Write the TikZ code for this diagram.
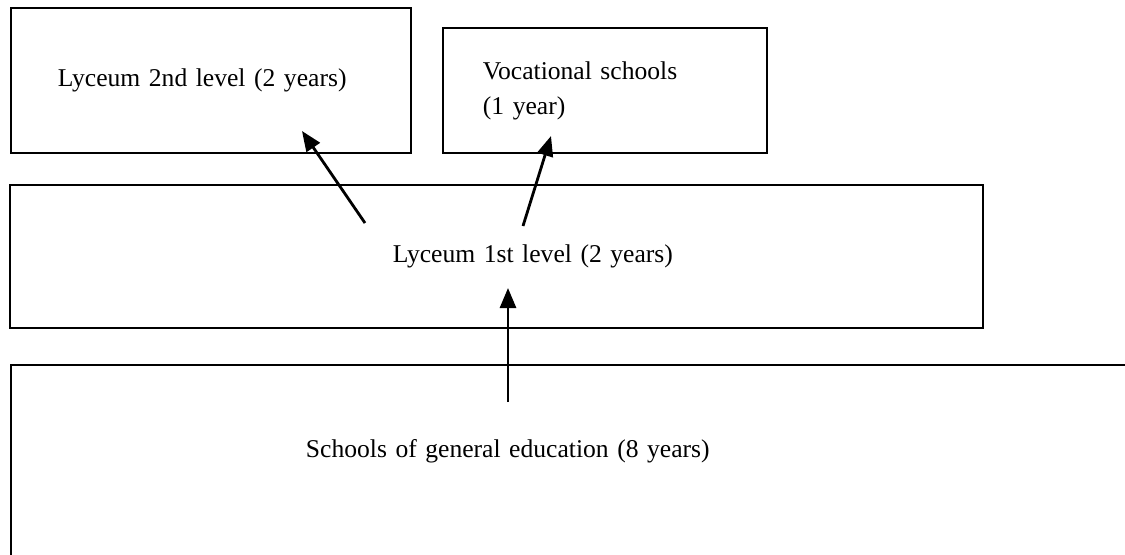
\documentclass[tikz,border=0pt]{standalone}
\usepackage{fontspec}
\setmainfont{Liberation Serif}
\usetikzlibrary{arrows.meta}

\begin{document}
\begin{tikzpicture}[x=0.5pt,
            y=-0.5pt,
            >={Triangle[length=10pt,width=8pt]},
            line width=0.9pt,
            font=\fontsize{12.8pt}{17.5pt}\selectfont,
            box/.style={draw, rectangle, anchor=north west},
            flow/.style={->, line width=1.4pt}]

        \useasboundingbox (0,0) rectangle (1125,554);
        \clip (0,0) rectangle (1125,554);

        \node[box, minimum width=200pt, minimum height=72.5pt,
              inner xsep=23.5pt, text width=153pt, align=left]
              (lyc2) at (10,7) {Lyceum 2nd level (2 years)};
        \node[box, minimum width=162pt, minimum height=62.5pt,
              inner xsep=20pt, text width=122pt, align=left]
              (voc) at (442,27) {Vocational schools\\(1 year)};
        \node[box, minimum width=486.5pt, minimum height=71.5pt,
              inner xsep=155pt, text width=176.5pt, align=right]
              (lyc1) at (9,184) {Lyceum 1st level (2 years)};
        \node[box, inner xsep=147.5pt, inner ysep=0pt, text width=355pt,
              align=left, text height=46.5pt, text depth=75pt]
              (gen) at (10,364) {Schools of general education (8 years)};

        \coordinate (lyc1a) at (365,223);
        \coordinate (lyc1b) at (523,226);
        \coordinate (gena)  at (508,402);
        \coordinate (lyc2a) at (302,131);
        \coordinate (voca)  at (551,136);
        \coordinate (lyc1c) at (508,288);

        \draw[flow] (lyc1a) -- (lyc2a);
        \draw[flow] (lyc1b) -- (voca);
        \draw[flow] (gena)  -- (lyc1c);

    \end{tikzpicture}
\end{document}
